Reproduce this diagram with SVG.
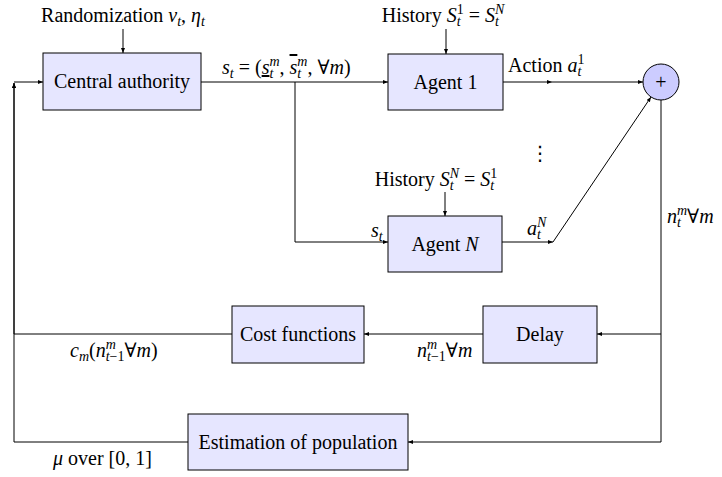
<svg xmlns="http://www.w3.org/2000/svg" width="722" height="477" viewBox="0 0 722 477">
<style>
text{font-family:"Liberation Serif","DejaVu Serif",serif;font-size:20px;fill:#000}
.i{font-style:italic}
.s{font-size:14px}
.box{fill:#e6e6ff;stroke:#000;stroke-width:1}
.c{fill:none;stroke:#000;stroke-width:1}
.a{marker-end:url(#ah)}
</style>
<defs>
<marker id="ah" markerUnits="userSpaceOnUse" markerWidth="6" markerHeight="6" refX="5" refY="2" orient="auto">
<path d="M0,0 L5,2 L0,4 z" fill="#000"/>
</marker>
</defs>
<rect width="722" height="477" fill="#fff"/>
<g id="connectors">
<path class="c a" d="M123,29 V53"/>
<path class="c a" d="M446,29 V54"/>
<path class="c a" d="M445,192 V216"/>
<path class="c a" d="M201,82 H388"/>
<path class="c a" d="M295,82 V242 H388"/>
<path class="c a" d="M503,82 H552"/>
<path class="c a" d="M552,82 H643"/>
<path class="c a" d="M502,242 H553"/>
<path class="c a" d="M553,242 L651,97"/>
<path class="c" d="M661,100 V442"/>
<path class="c a" d="M661,334 H597"/>
<path class="c a" d="M483,334 H364"/>
<path class="c a" d="M661,442 H408"/>
<path class="c a" d="M232,334 H14 V83"/>
<path class="c a" d="M188,442 H14 V83"/>
<path class="c a" d="M14,82 H43"/>
</g>
<g id="central">
<rect class="box" x="43" y="53" width="158" height="57"/>
<text x="122" y="88" text-anchor="middle">Central authority</text>
</g>
<g id="agent1">
<rect class="box" x="388" y="54" width="115" height="56"/>
<text x="445.5" y="89" text-anchor="middle">Agent 1</text>
</g>
<g id="agentN">
<rect class="box" x="388" y="216" width="114" height="56"/>
<text x="445" y="251" text-anchor="middle">Agent <tspan class="i">N</tspan></text>
</g>
<g id="sum">
<circle cx="661" cy="82" r="18" fill="#ccccff" stroke="#000" stroke-width="1"/>
<text x="661" y="89" text-anchor="middle">+</text>
</g>
<g id="delay">
<rect class="box" x="483" y="306" width="114" height="57"/>
<text x="540" y="341" text-anchor="middle">Delay</text>
</g>
<g id="cost">
<rect class="box" x="232" y="306" width="132" height="57"/>
<text x="298" y="341" text-anchor="middle">Cost functions</text>
</g>
<g id="estimation">
<rect class="box" x="188" y="414" width="220" height="56"/>
<text x="298" y="449" text-anchor="middle">Estimation of population</text>
</g>
<g id="labels">
<text x="123" y="22" text-anchor="middle">Randomization <tspan class="i">ν</tspan><tspan class="s i" dy="4">t</tspan><tspan dy="-4">, </tspan><tspan class="i">η</tspan><tspan class="s i" dy="4">t</tspan></text>
<text x="443" y="22" text-anchor="middle">History <tspan class="i">S</tspan><tspan class="s i" dy="4">t</tspan><tspan class="s" dx="-3.9" dy="-12">1</tspan><tspan dy="8"> = </tspan><tspan class="i">S</tspan><tspan class="s i" dy="4">t</tspan><tspan class="s i" dx="-3.9" dy="-12">N</tspan></text>
<text x="436" y="186" text-anchor="middle">History <tspan class="i">S</tspan><tspan class="s i" dy="4">t</tspan><tspan class="s i" dx="-3.9" dy="-12">N</tspan><tspan dy="8"> = </tspan><tspan class="i">S</tspan><tspan class="s i" dy="4">t</tspan><tspan class="s" dx="-3.9" dy="-12">1</tspan></text>
<text x="222" y="74"><tspan class="i">s</tspan><tspan class="s i" dy="4">t</tspan><tspan dy="-4"> = (</tspan><tspan class="i" text-decoration="underline">s</tspan><tspan class="s i" dy="4">t</tspan><tspan class="s i" dx="-3.9" dy="-12">m</tspan><tspan dy="8">, </tspan><tspan class="i" text-decoration="overline">s</tspan><tspan class="s i" dy="4">t</tspan><tspan class="s i" dx="-3.9" dy="-12">m</tspan><tspan dy="8">, ∀</tspan><tspan class="i">m</tspan>)</text>
<text x="508" y="72">Action <tspan class="i">a</tspan><tspan class="s i" dy="4">t</tspan><tspan class="s" dx="-3.9" dy="-12">1</tspan></text>
<text x="540" y="160" text-anchor="middle" style="font-family:'DejaVu Sans',sans-serif;font-size:20px">⋮</text>
<text x="371" y="237" class="i">s<tspan class="s" dy="4">t</tspan></text>
<text x="527" y="235" class="i">a<tspan class="s" dy="4">t</tspan><tspan class="s" dx="-3.9" dy="-12">N</tspan></text>
<text x="667" y="223" class="i">n<tspan class="s" dy="4">t</tspan><tspan class="s" dx="-3.9" dy="-12">m</tspan><tspan dy="8" style="font-style:normal">∀</tspan>m</text>
<text x="70" y="357"><tspan class="i">c</tspan><tspan class="s i" dy="4">m</tspan><tspan dy="-4">(</tspan><tspan class="i">n</tspan><tspan class="s i" dy="-8">m</tspan><tspan class="s" dx="-10.1" dy="12"><tspan class="i">t</tspan>−1</tspan><tspan dy="-4">∀</tspan><tspan class="i">m</tspan>)</text>
<text x="417" y="357"><tspan class="i">n</tspan><tspan class="s i" dy="-8">m</tspan><tspan class="s" dx="-10.1" dy="12"><tspan class="i">t</tspan>−1</tspan><tspan dy="-4">∀</tspan><tspan class="i">m</tspan></text>
<text x="53" y="465"><tspan class="i">μ</tspan> over [0, 1]</text>
</g>
</svg>
